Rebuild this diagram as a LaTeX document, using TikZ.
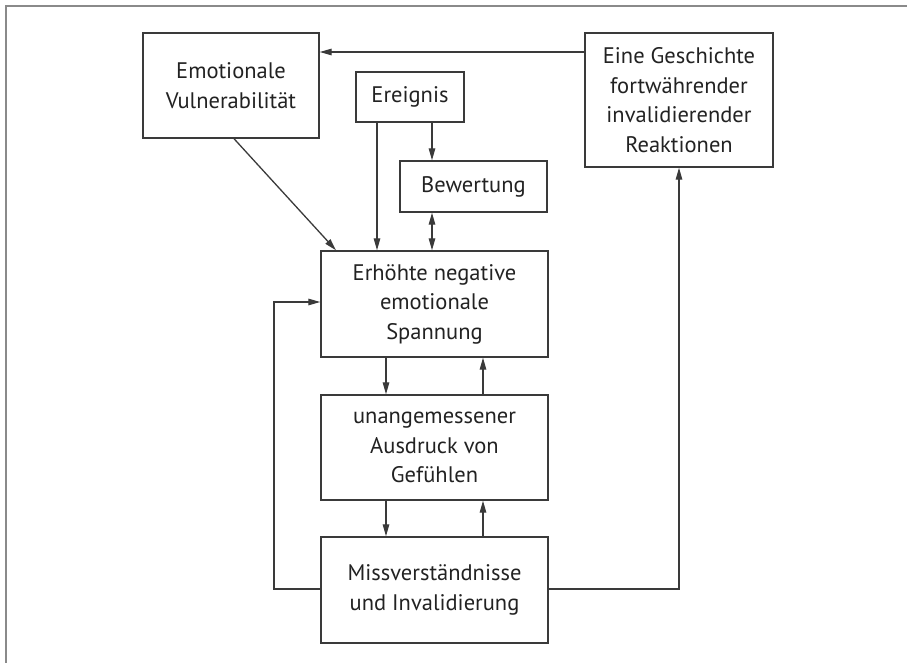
\documentclass[tikz,border=0pt]{standalone}
\usepackage{fontspec}
\setmainfont{PT Sans}
\usetikzlibrary{arrows.meta}
\definecolor{linec}{HTML}{3A3A3A}
\definecolor{textc}{HTML}{222222}
\definecolor{framec}{HTML}{8A8A8A}
\begin{document}
\begin{tikzpicture}[x=1pt,y=-1pt,
  box/.style={draw=linec, line width=1.4pt, rectangle, inner sep=0pt, align=center,
    text=textc, font=\fontsize{22.5}{29.5}\selectfont},
  conn/.style={draw=linec, line width=1.3pt, -{Triangle[length=12pt,width=6.5pt]}},
  both/.style={draw=linec, line width=1.3pt, {Triangle[length=12pt,width=6.5pt]}-{Triangle[length=12pt,width=6.5pt]}}]
\useasboundingbox (0,0) rectangle (907,663);
\draw[framec, line width=2.2pt] (6,663) -- (6,6) -- (907,6);
\node[box, minimum width=176pt, minimum height=105pt] (emo) at (231,85.5) {Emotionale\\Vulnerabilität};
\node[box, minimum width=188pt, minimum height=134pt] (ges) at (679,100) {Eine Geschichte\\fortwährender\\invalidierender\\Reaktionen};
\node[box, minimum width=108pt, minimum height=50pt] (ere) at (410,97) {Ereignis};
\node[box, minimum width=147pt, minimum height=51pt] (bew) at (473.5,186.5) {Bewertung};
\node[box, minimum width=227pt, minimum height=106pt] (erh) at (434.5,304) {Erhöhte negative\\emotionale\\Spannung};
\node[box, minimum width=227pt, minimum height=105pt] (una) at (434.5,447.5) {unangemessener\\Ausdruck von\\Gefühlen};
\node[box, minimum width=227pt, minimum height=106pt] (mis) at (434.5,590) {Missverständnisse\\und Invalidierung};
\coordinate (gesL) at (ges.west |- 0,52);
\coordinate (emoR) at (emo.east |- 0,52);
\draw[conn] (gesL) -- (emoR);
\draw[conn] (emo.south -| 234,0) -- (erh.north -| 336,0);
\draw[conn] (ere.south -| 377,0) -- (erh.north -| 377,0);
\draw[conn] (ere.south -| 432,0) -- (bew.north -| 432,0);
\draw[both] (bew.south -| 432,0) -- (erh.north -| 432,0);
\draw[conn] (erh.south -| 386,0) -- (una.north -| 386,0);
\draw[conn] (una.north -| 483,0) -- (erh.south -| 483,0);
\draw[conn] (una.south -| 386,0) -- (mis.north -| 386,0);
\draw[conn] (mis.north -| 483,0) -- (una.south -| 483,0);
\coordinate (loopA) at (274,589);
\coordinate (loopB) at (274,302);
\draw[conn] (mis.west |- 0,589) -- (loopA) -- (loopB) -- (erh.west |- 0,302);
\coordinate (loopC) at (679,589);
\draw[conn] (mis.east |- 0,589) -- (loopC) -- (ges.south);
\end{tikzpicture}
\end{document}
